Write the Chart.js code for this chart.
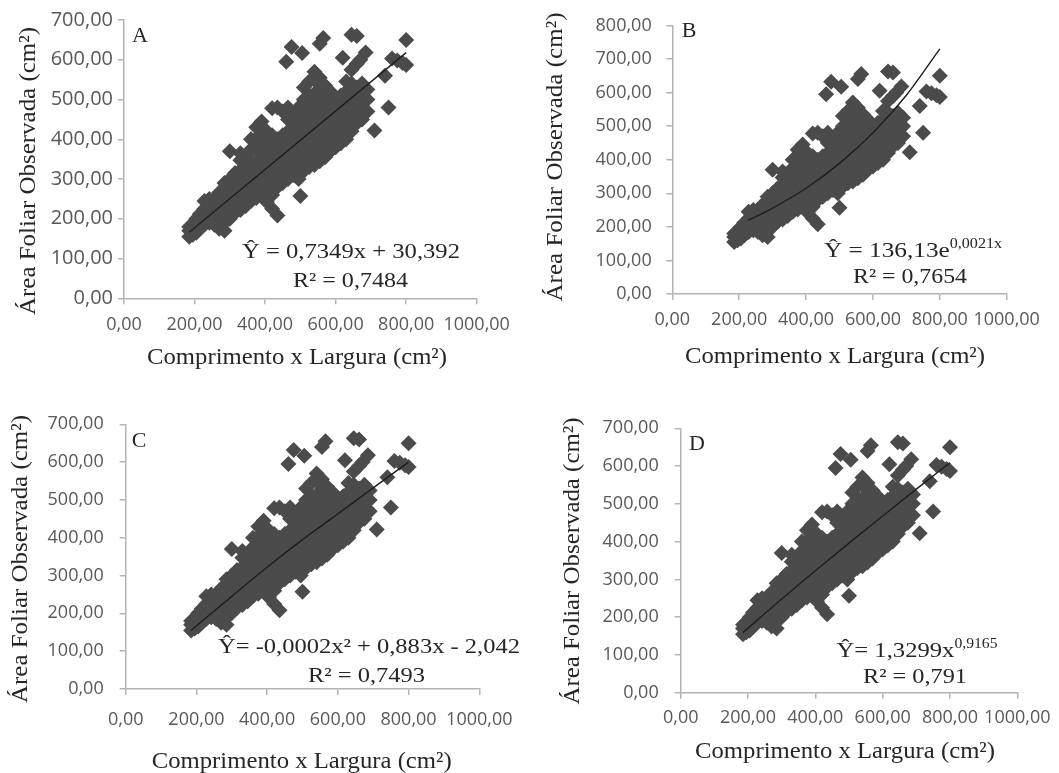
<!DOCTYPE html>
<html><head><meta charset="utf-8">
<script src="https://cdn.jsdelivr.net/npm/chart.js@4.4.1/dist/chart.umd.min.js"></script>
<style>
html,body{margin:0;padding:0;background:#fff}
body{width:1059px;height:773px;overflow:hidden;position:relative}
canvas{position:absolute}
</style></head><body>
<canvas id="cA"></canvas><canvas id="cB"></canvas><canvas id="cC"></canvas><canvas id="cD"></canvas>
<script>
// ---------- DATA ----------
// Observed leaf area (Y) vs length x width (X), same data in the four panels
const obsX = [
185,185,185, 195,195, 205,205,205, 215,215,215, 228,228,228,228, 242,242,242,242, 256,256,256,256,
270,270,270,270,270, 285,285,285,285,285,285, 300,300,300,300,300,300, 315,315,315,315,315,
330,330,330,330,330,330,330, 345,345,345,345,345,345, 360,360,360,360,360,360,360,
375,375,375,375,375,375,375, 390,390,390,390,390,390,390, 405,405,405,405,405,405,405,
420,420,420,420,420,420,420,420, 435,435,435,435,435,435,435, 450,450,450,450,450,450,
465,465,465,465,465,465,465, 480,480,480,480,480,480, 495,495,495,495,495,495,495, 500,
510,510,510,510,510,510,510,510, 525,525,525,525,525,525,525,525, 540,540,540,540,540,540,540,540,540,
555,555,555,555,555,555,555,555, 570,570,570,570,570,570,570, 585,585,585,585,585,585,
600,600,600,600,600, 615,615,615,615,615, 630,630,630,630,630,630, 645,645,645,645,645,645,
660,660,660,660,660, 675,675,675,675, 690,690,690,
800,800,790,775,760,740,750,710,685,670,645,660,620,565,555,505,475,460
];
const obsY = [
155,170,180, 160,178, 165,185,200, 175,195,212, 185,205,225,245, 190,212,235,250, 185,205,228,248,
175,196,220,245,266, 170,190,215,240,265,290, 200,225,250,275,300,370, 215,240,265,290,315,
222,247,272,297,322,347,365, 232,257,282,307,332,357, 245,270,295,320,345,375,400,
252,282,312,342,372,402,430, 262,292,322,352,382,412,445, 242,270,300,330,360,390,420,
225,260,290,320,350,380,410,478, 208,280,310,340,370,400,480, 290,320,350,380,410,470,
300,330,360,390,420,450,480, 310,340,370,400,430,460, 300,330,360,390,420,450,480, 257,
320,350,380,410,440,470,500,530, 330,360,390,420,450,480,510,545, 335,365,395,425,455,485,515,550,570,
345,375,405,435,465,495,525,555, 355,385,415,445,475,505,535, 370,400,430,460,490,520,
380,410,440,470,500, 390,420,450,480,510, 400,430,460,490,520,545, 420,450,480,510,540,575,
440,470,500,530,590, 450,480,510,540, 470,500,525,
650,587,592,598,603,560,480,422,618,600,663,660,605,655,640,617,632,595
];
// Fitted curves
const trendA_x = [185, 800];
const trendA_y = [166, 618];
const trendB_x = [226, 300, 400, 500, 600, 700, 800];
const trendB_y = [219, 256, 315, 389, 480, 592, 730];
const trendC_x = [185, 300, 400, 500, 600, 700, 800];
const trendC_y = [155, 245, 322, 395, 463, 532, 600];
const trendD_x = [185, 300, 400, 500, 600, 700, 800];
const trendD_y = [159, 248, 323, 396, 468, 539, 609];
// Tick labels
const xTicks = [0, 200, 400, 600, 800, 1000];
const yTicks700 = [0, 100, 200, 300, 400, 500, 600, 700];
const yTicks800 = [0, 100, 200, 300, 400, 500, 600, 700, 800];
const panelLetters = ['A', 'B', 'C', 'D'];
const equations = ['Ŷ = 0,7349x + 30,392', 'Ŷ = 136,13e', 'Ŷ= -0,0002x² + 0,883x - 2,042', 'Ŷ= 1,3299x'];
const eqExponents = ['', '0,0021x', '', '0,9165'];
const r2Labels = ['R² = 0,7484', 'R² = 0,7654', 'R² = 0,7493', 'R² = 0,791'];
const xTitle = 'Comprimento x Largura (cm²)';
const yTitle = 'Área Foliar Observada (cm²)';

// ---------- HELPERS ----------
const fmt = v => Number(v).toFixed(2).replace('.', ',');
const pts = (xs, ys) => xs.map((x, i) => ({x: x, y: ys[i]}));
const AXIS = '#b4b4b4';
const TICKC = '#595959';
const TXT = '#262626';
const SERIF = '"Liberation Serif", serif';

function drawRich(ctx, it) {
  ctx.save();
  let total = 0;
  const ws = it.parts.map(p => {
    ctx.font = p[1] + 'px ' + SERIF;
    const w = ctx.measureText(p[0]).width; total += w; return w;
  });
  const sx = it.w ? it.w / total : 1;
  ctx.translate(it.x, it.y);
  if (it.rot) ctx.rotate(it.rot);
  ctx.scale(sx, 1);
  ctx.fillStyle = it.color || TXT;
  ctx.textAlign = 'left';
  ctx.textBaseline = it.base || 'alphabetic';
  let cx = -total / 2;
  it.parts.forEach((p, i) => {
    ctx.font = p[1] + 'px ' + SERIF;
    ctx.fillText(p[0], cx, p[2] || 0);
    cx += ws[i];
  });
  ctx.restore();
}

const textPlugin = {
  id: 'panelText',
  afterDraw(chart, args, opts) {
    const ctx = chart.ctx;
    (opts.items || []).forEach(it => drawRich(ctx, Object.assign({}, it, {x: it.x - opts.ox, y: it.y - opts.oy})));
  }
};

function makePanel(id, P, idx) {
  const cv = document.getElementById(id);
  cv.width = P.w; cv.height = P.h;
  cv.style.left = P.ox + 'px'; cv.style.top = P.oy + 'px';
  cv.style.width = P.w + 'px'; cv.style.height = P.h + 'px';
  const yAxisW = P.area.l - P.ox;
  const xAxisH = P.oy + P.h - P.area.b;
  const sup = eqExponents[idx];
  const eqParts = sup ? [[equations[idx], 22], [sup, 14, -9]] : [[equations[idx], 22]];
  const items = [
    {parts: [[panelLetters[idx], 22]], x: P.letter[0], y: P.letter[1]},
    {parts: eqParts, x: P.eq1[0], y: P.eq1[1], w: P.eq1[2]},
    {parts: [[r2Labels[idx], 22]], x: P.eq2[0], y: P.eq2[1], w: P.eq2[2]},
    {parts: [[xTitle, 23]], x: P.xt[0], y: P.xt[1], w: P.xt[2]},
    {parts: [[yTitle, 23]], x: P.yt[0], y: P.yt[1], w: P.yt[2], rot: -Math.PI / 2, base: 'middle'}
  ];
  return new Chart(cv, {
    type: 'scatter',
    data: {
      datasets: [
        {data: pts(P.tx, P.ty), showLine: true, borderColor: '#1e1e1e', borderWidth: 1.4,
         pointRadius: 0, fill: false, cubicInterpolationMode: 'monotone', order: 0},
        {data: pts(obsX, obsY), pointStyle: 'rectRot', pointRadius: 8, pointHoverRadius: 8,
         backgroundColor: '#4b4b4b', borderColor: '#4b4b4b', borderWidth: 0, order: 1}
      ]
    },
    options: {
      responsive: false, animation: false,
      layout: {padding: {left: 0, bottom: 0, top: P.area.t - P.oy, right: P.ox + P.w - P.area.r}},
      plugins: {legend: {display: false}, tooltip: {enabled: false},
        panelText: {items: items, ox: P.ox, oy: P.oy}},
      scales: {
        x: {type: 'linear', min: 0, max: 1000,
          afterBuildTicks: s => { s.ticks = xTicks.map(v => ({value: v})); },
          afterFit: s => { s.height = xAxisH; },
          ticks: {callback: v => fmt(v), color: TICKC, font: {family: '"Open Sans"', size: 18},
            padding: P.xPad, maxRotation: 0, autoSkip: false},
          grid: {drawOnChartArea: false, drawTicks: true, tickLength: 6, color: AXIS, lineWidth: 1.5},
          border: {display: true, color: AXIS, width: 1.5}},
        y: {type: 'linear', min: 0, max: P.yMax,
          afterBuildTicks: s => { s.ticks = P.yt_.map(v => ({value: v})); },
          afterFit: s => { s.width = yAxisW; },
          ticks: {callback: v => fmt(v), color: TICKC, font: {family: '"Open Sans"', size: P.yFont},
            padding: P.yPad, autoSkip: false},
          grid: {drawOnChartArea: false, drawTicks: true, tickLength: 6, color: AXIS, lineWidth: 1.5},
          border: {display: true, color: AXIS, width: 1.5}}
      }
    },
    plugins: [textPlugin]
  });
}

const panels = [
  {ox: 0, oy: 0, w: 530, h: 385, area: {l: 124, r: 476.7, t: 20, b: 298.3}, yMax: 700, yt_: yTicks700,
   yFont: 20, yPad: 5, xPad: 10, tx: trendA_x, ty: trendA_y,
   letter: [140, 41.7], eq1: [351, 258.3, 218], eq2: [350.5, 286.7, 115], xt: [297, 364, 300], yt: [29, 171, 288]},
  {ox: 530, oy: 0, w: 529, h: 385, area: {l: 672.3, r: 1006.7, t: 16.7, b: 294}, yMax: 800, yt_: yTicks800,
   yFont: 18, yPad: 14.6, xPad: 9, tx: trendB_x, ty: trendB_y,
   letter: [689, 36.7], eq1: [913, 256.7, 178], eq2: [910, 283.3, 114], xt: [835, 363, 300], yt: [556, 157, 289]},
  {ox: 0, oy: 385, w: 530, h: 388, area: {l: 125.7, r: 479.3, t: 424.3, b: 689}, yMax: 700, yt_: yTicks700,
   yFont: 18, yPad: 16, xPad: 14, tx: trendC_x, ty: trendC_y,
   letter: [139, 446.7], eq1: [369, 653.3, 302], eq2: [366.5, 681.7, 117], xt: [301.7, 768.3, 300], yt: [21, 559, 288]},
  {ox: 530, oy: 385, w: 529, h: 388, area: {l: 680.7, r: 1017.7, t: 428.3, b: 692.7}, yMax: 700, yt_: yTicks700,
   yFont: 18, yPad: 16, xPad: 8.5, tx: trendD_x, ty: trendD_y,
   letter: [697, 450], eq1: [917, 656.7, 161], eq2: [915, 683.3, 104], xt: [845, 758.3, 300], yt: [573, 561, 287]}
];
['cA', 'cB', 'cC', 'cD'].forEach((id, i) => makePanel(id, panels[i], i));
</script>
</body></html>
